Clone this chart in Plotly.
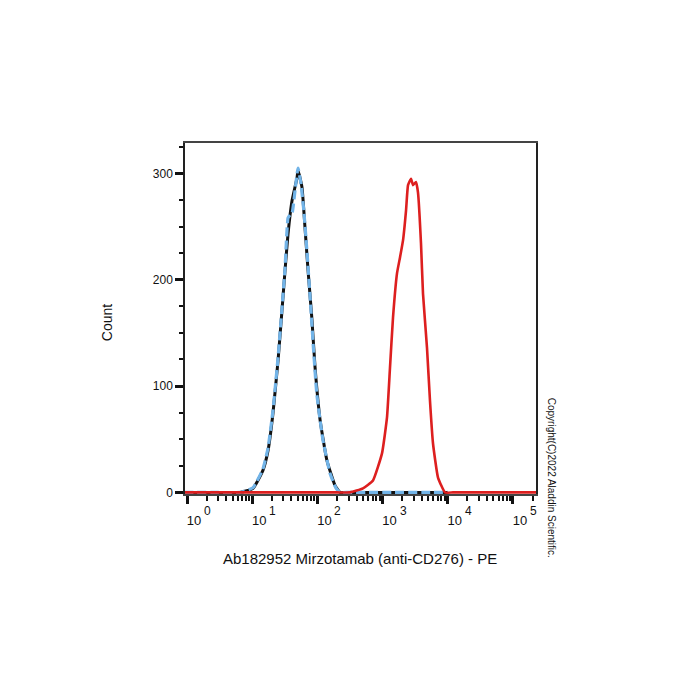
import math
import plotly.graph_objects as go

# ---- data ----
black_x = [0.9, 3, 6.5, 10.3, 14.6, 17.5, 20.8, 24.9, 28.6, 31.8, 35.4, 40.7, 48.7, 50.4, 58, 64.5, 71.8, 82.6, 91.9, 110, 140, 186, 222, 300, 600, 1500, 4000, 10000]
black_y = [0, 0, 0, 3.8, 20.7, 39.5, 74.2, 124, 171, 208, 243, 274, 296, 303, 287, 249, 209, 162, 118, 68, 30, 6.6, 0, 0, 0, 0, 0, 0]

blue_x = [0.9, 3, 6.5, 10.3, 14.6, 17.5, 20.8, 24.9, 28.6, 31.8, 35.4, 38, 40.7, 45.6, 50.4, 56, 62.5, 69.5, 77, 87, 98, 121, 156, 193, 222, 300, 600, 1500, 4000, 10000]
blue_y = [0, 0, 0, 4.5, 22, 42, 77, 127, 173, 210, 258, 261, 262, 285, 305, 290, 262, 225, 185, 135, 92, 50, 18, 4, 0, 0, 0, 0, 0, 0]

red_x = [0.9, 3, 10, 30, 100, 200, 316, 500, 713, 979, 1168, 1299, 1445, 1663, 1849, 2057, 2287, 2455, 2729, 2927, 3254, 3491, 3881, 4165, 4797, 5334, 5932, 7079, 9057, 12000, 25000, 60000, 120000, 230000]
red_y = [0, 0, 0, 0, 0, 0, 0, 3.8, 11.3, 36.7, 70.5, 117.6, 164.6, 206, 221, 237, 265, 289, 295, 289, 292, 282, 234, 187, 136, 86, 46, 14, 0, 0, 0, 0, 0, 0]

x_tickvals = [1, 10, 100, 1000, 10000, 100000]
x_ticktext = ["10", "10", "10", "10", "10", "10"]
x_exponents = ["0", "1", "2", "3", "4", "5"]
y_tickvals = [0, 100, 200, 300]

x_title = "Ab182952 Mirzotamab (anti-CD276) - PE"
y_title = "Count"
copyright_text = "Copyright(C)2022 Aladdin Scientific."

FONT = "Liberation Sans, Arial, sans-serif"

fig = go.Figure()
fig.add_trace(go.Scatter(x=black_x, y=black_y, mode="lines",
                         line=dict(color="#111111", width=3, shape="spline", smoothing=0.4),
                         showlegend=False))
fig.add_trace(go.Scatter(x=blue_x, y=blue_y, mode="lines",
                         line=dict(color="#72b4e8", width=3.2, dash="9px,4px", shape="spline", smoothing=0.4),
                         showlegend=False))
fig.add_trace(go.Scatter(x=red_x, y=red_y, mode="lines",
                         line=dict(color="#dd1f1f", width=2.6, shape="spline", smoothing=0.4),
                         showlegend=False))

minor_x = [k * 10 ** d for d in range(0, 6) for k in range(2, 10)]

annotations = [
    dict(text=x_title, xref="paper", yref="paper", x=0.4986, y=-0.183,
         showarrow=False, xanchor="center", yanchor="middle",
         font=dict(size=15, family=FONT, color="#111111")),
    dict(text=y_title, xref="paper", yref="paper", x=-0.222, y=0.487,
         showarrow=False, xanchor="center", yanchor="middle", textangle=-90,
         font=dict(size=14, family=FONT, color="#111111")),
    dict(text=copyright_text, xref="paper", yref="paper", x=1.043, y=0.046,
         showarrow=False, xanchor="center", yanchor="middle", textangle=90,
         font=dict(size=10, family=FONT, color="#111111")),
]
# exponents of the decade labels, placed at each tick through the axis scale
for tv, ex in zip(x_tickvals, x_exponents):
    annotations.append(dict(text=ex, x=math.log10(tv), xref="x", y=0, yref="y",
                            showarrow=False, xanchor="left", yanchor="middle",
                            xshift=15, yshift=-19,
                            font=dict(size=12, family=FONT, color="#111111")))

fig.update_layout(
    width=700, height=700,
    margin=dict(l=185, r=164, t=143, b=206),
    paper_bgcolor="white", plot_bgcolor="white",
    font=dict(family=FONT, color="#111111"),
    xaxis=dict(
        type="log", range=[-0.031, 5.353],
        showgrid=False, zeroline=False,
        showline=True, linecolor="#444444", linewidth=1.5, mirror=True,
        layer="below traces",
        tickmode="array", tickvals=x_tickvals, ticktext=x_ticktext,
        ticks="outside", ticklen=8, tickwidth=3, tickcolor="#111111",
        ticklabelstandoff=6, ticklabelshift=7,
        tickfont=dict(size=13, family=FONT, color="#111111"),
        minor=dict(tickmode="array", tickvals=minor_x, ticks="outside",
                   ticklen=5, tickwidth=2, tickcolor="#111111"),
    ),
    yaxis=dict(
        range=[-1.5, 328.6],
        showgrid=False, zeroline=False,
        showline=True, linecolor="#222222", linewidth=1.5, mirror=True,
        tickmode="array", tickvals=y_tickvals,
        ticks="outside", ticklen=8, tickwidth=3, tickcolor="#111111",
        tickfont=dict(size=12, family=FONT, color="#111111"),
        minor=dict(dtick=25, ticks="outside", ticklen=4, tickwidth=1.5, tickcolor="#111111"),
    ),
    annotations=annotations,
)

fig.write_html("out.html")
